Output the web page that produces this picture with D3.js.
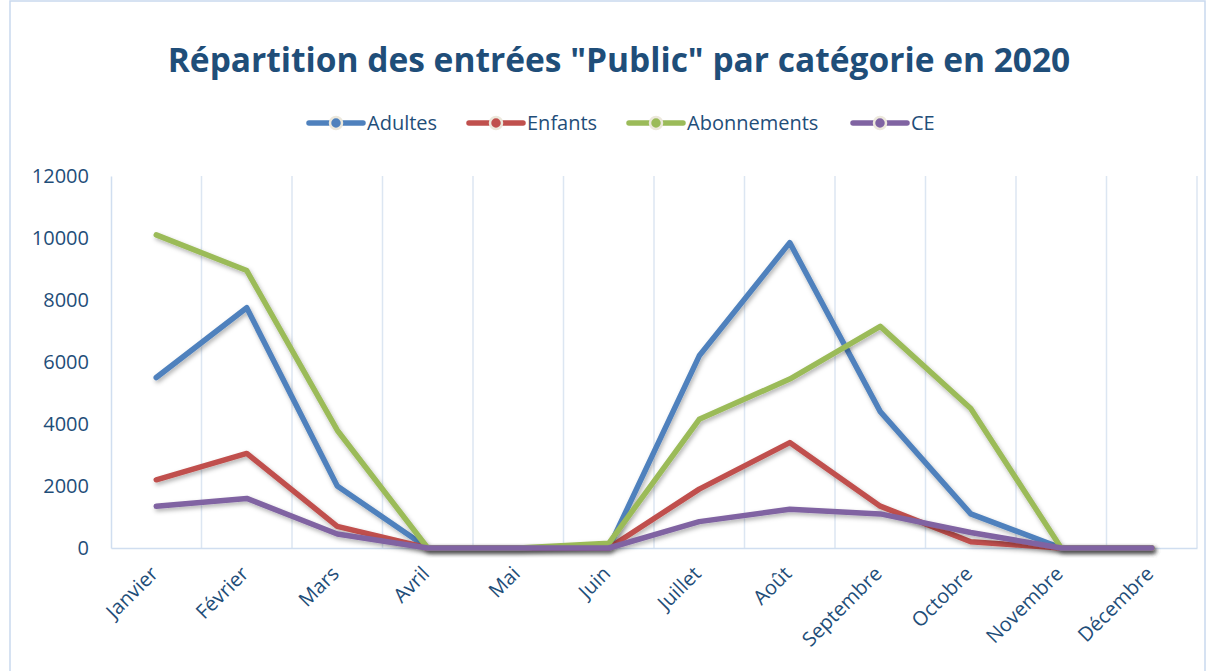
<!DOCTYPE html>
<meta charset="utf-8">
<style>
body { margin: 0; background: #fff; font-family: "Open Sans", sans-serif; }
.grid line { stroke: #dce6f2; stroke-width: 1.5; }
.axis path, .axis line { stroke: #d0def0; stroke-width: 1.5; }
.axis text { fill: #1f4e79; font-family: "Open Sans", sans-serif; font-size: 20px; }
</style>
<body>
<script src="https://d3js.org/d3.v7.min.js"></script>
<script>

// data
var months = ["Janvier", "Février", "Mars", "Avril", "Mai", "Juin", "Juillet", "Août", "Septembre", "Octobre", "Novembre", "Décembre"];
var adultes = [5500, 7750, 2000, 0, 0, 0, 6200, 9850, 4400, 1100, 0, 0];
var enfants = [2200, 3050, 700, 0, 0, 0, 1900, 3400, 1350, 200, 0, 0];
var abonnements = [10100, 8950, 3800, 0, 0, 150, 4150, 5450, 7150, 4500, 0, 0];
var ce = [1350, 1600, 450, 0, 0, 0, 850, 1250, 1100, 500, 0, 0];
var yTicks = [0, 2000, 4000, 6000, 8000, 10000, 12000];

var series = [
  { name: "Adultes", values: adultes, color: "#4f81bd" },
  { name: "Enfants", values: enfants, color: "#c0504d" },
  { name: "Abonnements", values: abonnements, color: "#9bbb59" },
  { name: "CE", values: ce, color: "#8064a2" }
];

var W = 1213, H = 671;
var svg = d3.select("body").append("svg")
    .attr("width", W)
    .attr("height", H);

var defs = svg.append("defs");
var f = defs.append("filter").attr("id", "shadow")
    .attr("x", "-10%").attr("y", "-10%").attr("width", "120%").attr("height", "130%");
f.append("feDropShadow")
    .attr("dx", 1.5).attr("dy", 2.5).attr("stdDeviation", 2)
    .attr("flood-color", "#000").attr("flood-opacity", 0.3);

// chart border
svg.append("rect")
    .attr("x", 10).attr("y", 1)
    .attr("width", 1195).attr("height", H + 10)
    .attr("fill", "none")
    .attr("stroke", "#c9d9ee")
    .attr("stroke-width", 1.5);

var plotLeft = 111, plotRight = 1197, plotTop = 176, plotBottom = 548;

var x = d3.scaleBand().domain(months).range([plotLeft, plotRight]);
var y = d3.scaleLinear().domain([0, 12000]).range([plotBottom, plotTop]);

// vertical grid at band edges
svg.append("g").attr("class", "grid")
  .selectAll("line")
  .data(months.slice(1).concat(["end"]))
  .enter().append("line")
    .attr("x1", function(d) { return d === "end" ? plotRight : x(d); })
    .attr("x2", function(d) { return d === "end" ? plotRight : x(d); })
    .attr("y1", plotTop)
    .attr("y2", plotBottom);

// y axis
svg.append("g")
    .attr("class", "axis")
    .attr("transform", "translate(" + plotLeft + ",0)")
    .call(d3.axisLeft(y).tickValues(yTicks).tickFormat(d3.format("d")).tickSize(0).tickPadding(22));

// x axis
var xAxis = svg.append("g")
    .attr("class", "axis")
    .attr("transform", "translate(0," + plotBottom + ")")
    .call(d3.axisBottom(x).tickSize(0).tickSizeOuter(0));
xAxis.selectAll("text")
    .attr("text-anchor", "end")
    .attr("dy", "0.35em")
    .attr("y", 0)
    .attr("transform", "translate(-2,22) rotate(-45)");

// lines
var line = d3.line()
    .x(function(d, i) { return x(months[i]) + x.bandwidth() / 2; })
    .y(function(d) { return y(d); });

svg.append("g").selectAll("path")
  .data(series)
  .enter().append("path")
    .attr("d", function(d) { return line(d.values); })
    .attr("fill", "none")
    .attr("stroke", function(d) { return d.color; })
    .attr("stroke-width", 5.5)
    .attr("stroke-linejoin", "round")
    .attr("stroke-linecap", "round")
    .attr("filter", "url(#shadow)");

// title
svg.append("text")
    .attr("x", 619)
    .attr("y", 72)
    .attr("text-anchor", "middle")
    .style("font-size", "33.5px")
    .style("font-weight", "bold")
    .style("fill", "#1f4e79")
    .text("Répartition des entrées \"Public\" par catégorie en 2020");

// legend
var legendX = [307, 467, 627, 851];
var lg = svg.append("g").selectAll("g")
  .data(series)
  .enter().append("g")
    .attr("transform", function(d, i) { return "translate(" + legendX[i] + ",123)"; });
lg.append("line")
    .attr("x1", 2).attr("x2", 56)
    .attr("stroke", function(d) { return d.color; })
    .attr("stroke-width", 5.5)
    .attr("stroke-linecap", "round");
lg.append("circle")
    .attr("cx", 29).attr("r", 6)
    .attr("fill", function(d) { return d.color; })
    .attr("stroke", "#ece8dc")
    .attr("stroke-width", 2.5);
lg.append("text")
    .attr("x", 60)
    .attr("dy", "0.35em")
    .style("font-size", "20px")
    .style("fill", "#1f4e79")
    .text(function(d) { return d.name; });

</script>
</body>
